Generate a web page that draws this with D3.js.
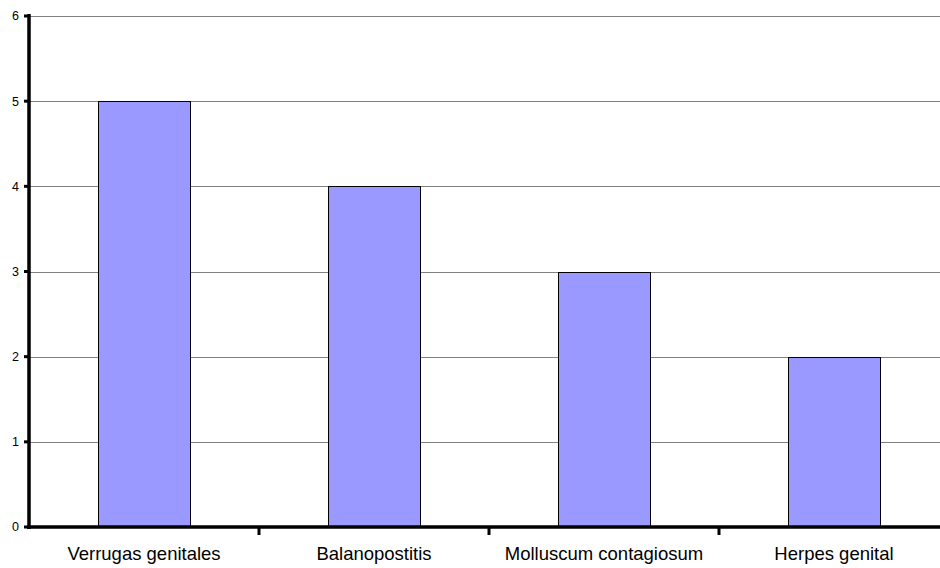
<!DOCTYPE html>
<html>
<head>
<meta charset="utf-8">
<script src="https://cdn.jsdelivr.net/npm/d3@7"></script>
<style>
  html, body { margin: 0; padding: 0; background: #fff; }
  svg { display: block; font-family: "Liberation Sans", Arial, sans-serif; }
</style>
</head>
<body>
<svg id="chart" width="940" height="568"></svg>
<script>
// Casos por diagnóstico
const categories = ["Verrugas genitales", "Balanopostitis", "Molluscum contagiosum", "Herpes genital"];
const values = [5, 4, 3, 2];
const yTicks = [0, 1, 2, 3, 4, 5, 6];

const svg = d3.select("#chart");
const plotLeft = 29, plotRight = 949, plotTop = 16, plotBottom = 527;

const x = d3.scaleBand()
  .domain(categories)
  .range([plotLeft, plotRight])
  .paddingInner(0.6)
  .paddingOuter(0.3);

const y = d3.scaleLinear().domain([0, 6]).range([plotBottom, plotTop]);

// horizontal gridlines
svg.append("g")
  .selectAll("line")
  .data(yTicks.filter(d => d > 0))
  .join("line")
  .attr("x1", plotLeft)
  .attr("x2", 940)
  .attr("y1", d => Math.round(y(d)) + 0.5)
  .attr("y2", d => Math.round(y(d)) + 0.5)
  .attr("stroke", "#808080")
  .attr("stroke-width", 1.2);

// bars
svg.append("g")
  .selectAll("rect")
  .data(values)
  .join("rect")
  .attr("x", (d, i) => Math.round(x(categories[i])) + 0.5)
  .attr("y", d => Math.round(y(d)) + 0.5)
  .attr("width", x.bandwidth())
  .attr("height", d => y(0) - Math.round(y(d)))
  .attr("fill", "#9999ff")
  .attr("stroke", "#000")
  .attr("stroke-width", 1);

// y axis
const yAxis = svg.append("g").attr("transform", `translate(${plotLeft},0)`);
yAxis.append("line")
  .attr("x1", 0).attr("x2", 0)
  .attr("y1", plotTop - 2).attr("y2", plotBottom + 2)
  .attr("stroke", "#000").attr("stroke-width", 3.5);
yAxis.selectAll("line.tick")
  .data(yTicks)
  .join("line")
  .attr("class", "tick")
  .attr("x1", -5).attr("x2", 0)
  .attr("y1", d => y(d)).attr("y2", d => y(d))
  .attr("stroke", "#000").attr("stroke-width", 3);
yAxis.selectAll("text")
  .data(yTicks)
  .join("text")
  .attr("x", -10)
  .attr("y", d => y(d))
  .attr("dy", "0.35em")
  .attr("text-anchor", "end")
  .attr("font-size", 12.5)
  .attr("fill", "#000")
  .text(d => d);

// x axis
const xAxis = svg.append("g");
xAxis.append("line")
  .attr("x1", plotLeft - 2).attr("x2", 940)
  .attr("y1", plotBottom).attr("y2", plotBottom)
  .attr("stroke", "#000").attr("stroke-width", 3.5);
const boundaries = categories.slice(1).map(c => x(c) - x.step() * x.paddingInner() / 2);
xAxis.selectAll("line.tick")
  .data(boundaries)
  .join("line")
  .attr("class", "tick")
  .attr("x1", d => d).attr("x2", d => d)
  .attr("y1", plotBottom).attr("y2", plotBottom + 8)
  .attr("stroke", "#000").attr("stroke-width", 3);
xAxis.selectAll("text")
  .data(categories)
  .join("text")
  .attr("x", d => x(d) + x.bandwidth() / 2)
  .attr("y", 560)
  .attr("text-anchor", "middle")
  .attr("font-size", 18.5)
  .attr("fill", "#000")
  .text(d => d);
</script>
</body>
</html>
